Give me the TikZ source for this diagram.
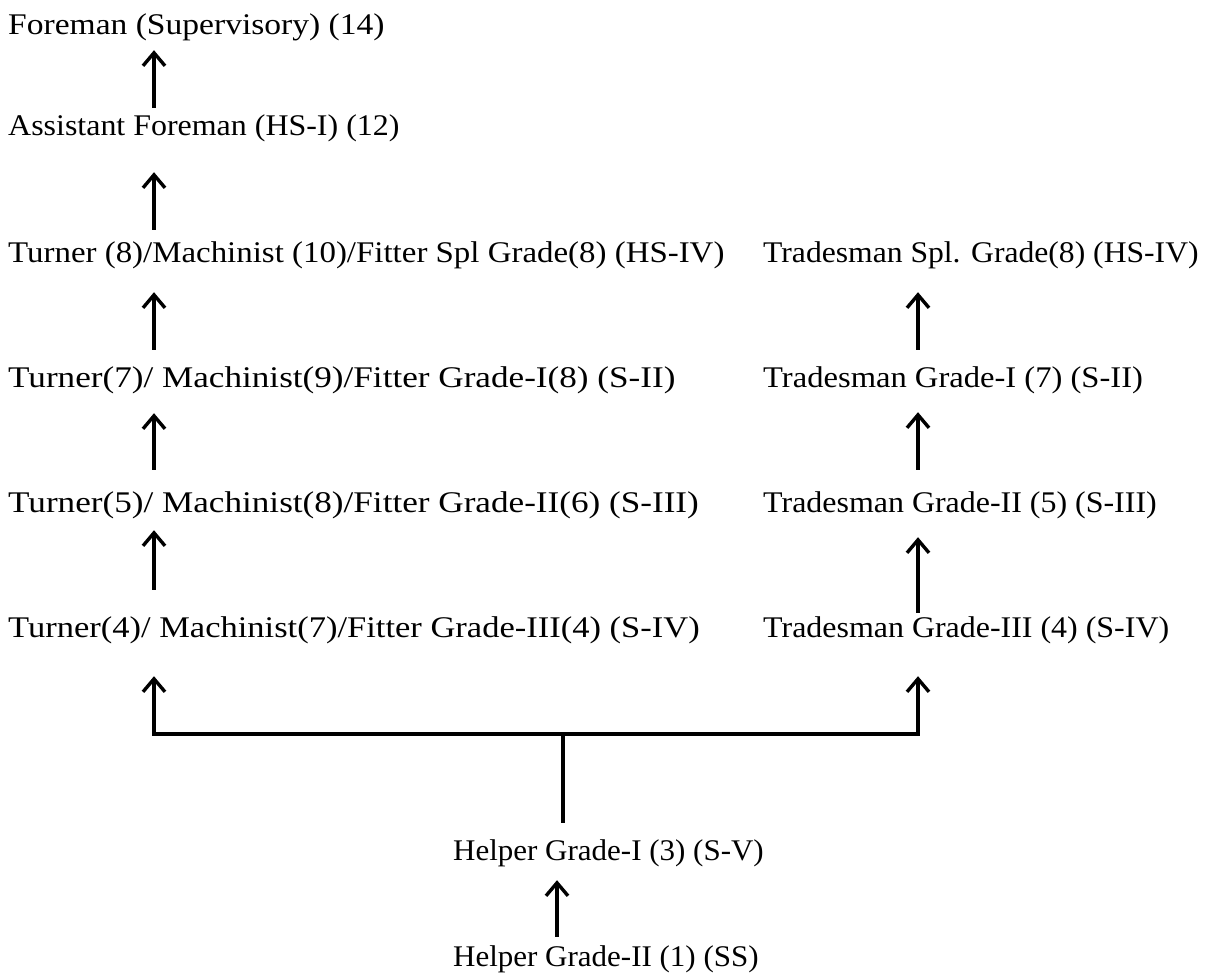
\documentclass[tikz,border=0pt]{standalone}
\usepackage{fontspec}
\setmainfont[FakeStretch=1.065]{Liberation Serif}
\usetikzlibrary{arrows.meta}

\tikzset{
  post/.style={anchor=base west, inner sep=0pt, text height=21pt, text depth=7pt,
    font=\fontsize{30}{32}\selectfont},
  up/.style={line width=3.4pt, -{Straight Barb[length=13pt,width=22pt]}},
  bar/.style={line width=3.4pt}
}

\begin{document}
\begin{tikzpicture}[x=1pt,y=-1pt]
  \useasboundingbox (0,0) rectangle (1206,974);

  \coordinate (lc) at (154,0);
  \coordinate (rc) at (918,0);
  \coordinate (hc) at (557,0);
  \coordinate (jn) at (563,734);

  % left column
  \node[post, xscale=1.05] (fore)  at (8,35)  {Foreman (Supervisory) (14)};
  \node[post] (asst)  at (8,135) {Assistant Foreman (HS-I) (12)};
  \node[post, xscale=1.03] (turn8) at (8,262) {Turner (8)/Machinist (10)/Fitter Spl Grade(8) (HS-IV)};
  \node[post, xscale=1.10] (turn7) at (8,387) {Turner(7)/ Machinist(9)/Fitter Grade-I(8) (S-II)};
  \node[post, xscale=1.10] (turn5) at (8,512) {Turner(5)/ Machinist(8)/Fitter Grade-II(6) (S-III)};
  \node[post, xscale=1.08] (turn4) at (8,637) {Turner(4)/ Machinist(7)/Fitter Grade-III(4) (S-IV)};

  % right column
  \node[post, xscale=0.99] (trade8) at (763,262) {Tradesman Spl. Grade(8) (HS-IV)};
  \node[post, xscale=1.02] (trade7) at (763,387) {Tradesman Grade-I (7) (S-II)};
  \node[post] (trade5) at (763,512) {Tradesman Grade-II (5) (S-III)};
  \node[post] (trade4) at (763,637) {Tradesman Grade-III (4) (S-IV)};

  % helpers
  \node[post, xscale=0.97] (help1) at (453,860) {Helper Grade-I (3) (S-V)};
  \node[post, xscale=0.97] (help2) at (453,966) {Helper Grade-II (1) (SS)};

  \draw[up, shorten <=6pt, shorten >=8pt] (asst.north -| lc) -- (fore.south -| lc);
  \draw[up, shorten <=11pt, shorten >=30pt] (turn8.north -| lc) -- (asst.south -| lc);
  \draw[up, shorten <=16pt, shorten >=23pt] (turn7.north -| lc) -- (turn8.south -| lc);
  \draw[up, shorten <=21pt, shorten >=19pt] (turn5.north -| lc) -- (turn7.south -| lc);
  \draw[up, shorten <=26pt, shorten >=11pt] (turn4.north -| lc) -- (turn5.south -| lc);

  \draw[up, shorten <=16pt, shorten >=23pt] (trade7.north -| rc) -- (trade8.south -| rc);
  \draw[up, shorten <=21pt, shorten >=18pt] (trade5.north -| rc) -- (trade7.south -| rc);
  \draw[up, shorten <=3pt, shorten >=18pt] (trade4.north -| rc) -- (trade5.south -| rc);

  \draw[up, shorten <=8pt, shorten >=13pt] (help2.north -| hc) -- (help1.south -| hc);

  % branch from helpers
  \draw[bar, shorten <=16pt] (help1.north -| jn) -- (jn);
  \draw[up, shorten >=32pt] (jn) -| (turn4.south -| lc);
  \draw[up, shorten >=32pt] (jn) -| (trade4.south -| rc);
\end{tikzpicture}
\end{document}
